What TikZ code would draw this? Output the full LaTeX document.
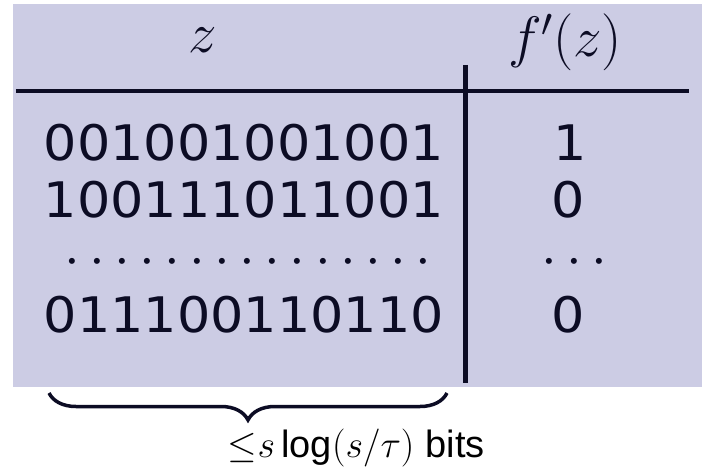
\documentclass[tikz,border=0pt]{standalone}
\usepackage{fix-cm}
\usepackage{fontspec}
\newfontfamily\digfont[FakeStretch=1.07]{DejaVu Sans}
\newfontfamily\lsans{Liberation Sans}
\usetikzlibrary{decorations.pathreplacing}
\definecolor{bgl}{RGB}{204,204,228}
\definecolor{ink}{RGB}{12,12,36}
\begin{document}
\begin{tikzpicture}[x=1pt,y=1pt,
  hdr/.style={inner sep=0pt, anchor=base, text=ink, font=\fontsize{57}{57}\selectfont},
  cell/.style={inner sep=0pt, anchor=base, text=ink, font=\digfont\fontsize{49}{49}\selectfont},
  dotrow/.style={inner sep=0pt, anchor=base, text=ink, font=\fontsize{56.5}{56.5}\selectfont},
  rulestyle/.style={draw=ink, line width=4.5pt}]
\useasboundingbox (0,0) rectangle (702,467);
\fill[bgl] (13,80) rectangle (702,463);
\coordinate (hl) at (16,376);
\coordinate (hr) at (689,376);
\coordinate (vt) at (465,402);
\coordinate (vb) at (465,84);
\draw[rulestyle] (hl) -- (hr);
\draw[rulestyle, line width=5pt] (vt) -- (vb);
\node[hdr] (hz) at (203,414) {$z$};
\node[hdr] (hf) at (565,410) {$f'(z)$};
\node[cell] (r1) at (244,306) {001001001001};
\node[cell] (r2) at (244,250) {100111011001};
\node[dotrow] (rd) at (248,192) {$\cdots\cdots\cdots\cdots\cdots$};
\node[cell] (r4) at (244,135) {011100110110};
\node[cell] (v1) at (570,306) {1};
\node[cell] (v2) at (568,250) {0};
\node[dotrow] (vd) at (574,192) {$\cdots$};
\node[cell] (v4) at (568,135) {0};
\coordinate (br) at (447,74);
\coordinate (bl) at (49,74);
\draw[ink, line width=3.5pt, decorate, decoration={brace, amplitude=27pt}] (br) -- (bl);
\node[anchor=base, inner sep=0pt, text=black, font=\fontsize{38}{38}\selectfont] (lab) at (356.5,10) {${\leq}s\,\mbox{\lsans log}(s/\tau)$ {\lsans bits}};
\end{tikzpicture}
\end{document}
